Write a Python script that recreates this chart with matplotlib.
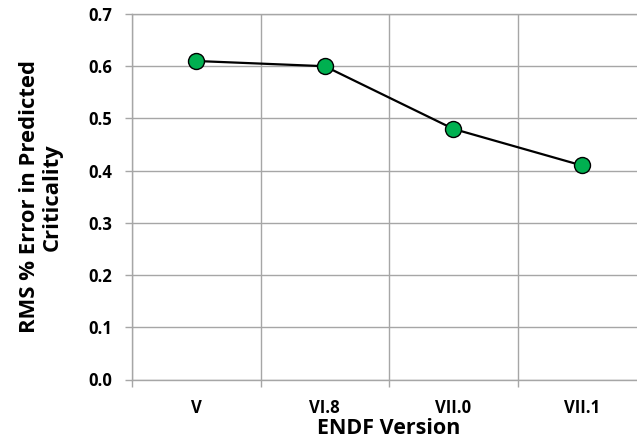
import matplotlib
matplotlib.use('Agg')
import matplotlib.pyplot as plt
import numpy as np

# datos
versiones = ['V', 'VI.8', 'VII.0', 'VII.1']
rms_error = [0.61, 0.60, 0.48, 0.41]

plt.rcParams['font.family'] = ['Open Sans', 'DejaVu Sans']

fig = plt.figure(figsize=(6.37, 4.43), dpi=100)
ax = fig.add_axes([132/637, 1 - 379.5/443, 514/637, 365.5/443])

x = np.arange(len(versiones))
ax.plot(x, rms_error, color='black', linewidth=1.6, marker='o',
        markersize=11.5, markerfacecolor='#00B050', markeredgecolor='black',
        markeredgewidth=1.0, zorder=3)

ax.set_xlim(-0.5, len(versiones) - 0.5)
ax.set_ylim(0, 0.7)

gris = '#A6A6A6'
# lineas verticales entre categorias
ax.set_xticks(np.arange(-0.5, len(versiones), 1))
ax.set_xticklabels([])
ax.set_xticks(x, minor=True)
ax.set_xticklabels(versiones, minor=True, fontweight='bold', fontsize=12)
ax.tick_params(axis='x', which='major', length=5, color=gris, width=1)
ax.tick_params(axis='x', which='minor', length=0, pad=14)

ax.set_yticks(np.arange(0, 0.71, 0.1))
ax.set_yticklabels(['%.1f' % v for v in np.arange(0, 0.71, 0.1)],
                   fontweight='bold', fontsize=12)
ax.tick_params(axis='y', length=5, color=gris, width=1, pad=9)

ax.grid(True, which='major', color=gris, linewidth=1)
ax.set_axisbelow(True)
for s in ax.spines.values():
    s.set_color(gris)
    s.set_linewidth(1)

ax.set_xlabel('ENDF Version', fontweight='bold', fontsize=15.5, labelpad=1)
ax.set_ylabel('RMS % Error in Predicted\nCriticality', fontweight='bold',
              fontsize=15.8, linespacing=1.12)
ax.yaxis.set_label_coords(-0.134, 0.5)

plt.savefig('out.png', dpi=100)
